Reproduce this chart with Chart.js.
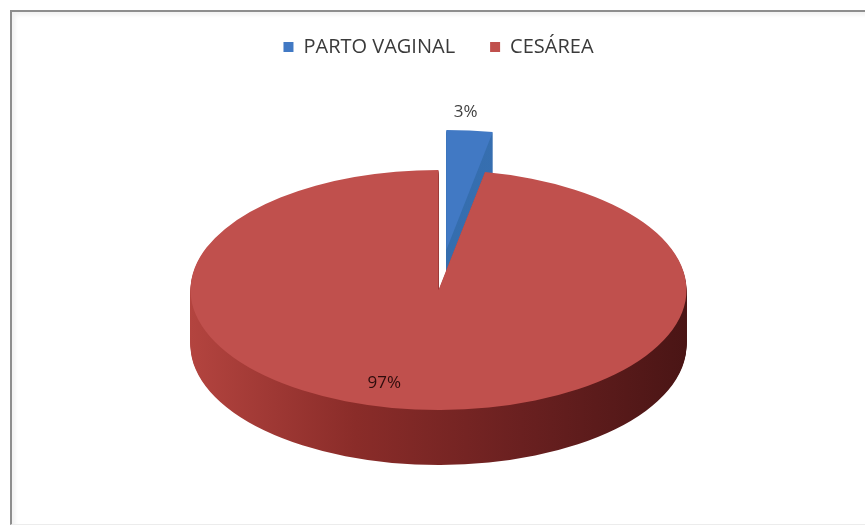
<!DOCTYPE html>
<html>
<head>
<meta charset="utf-8">
<title>Tipo de parto</title>
<script src="https://cdn.jsdelivr.net/npm/chart.js@4"></script>
<style>
    html, body {
        margin: 0;
        padding: 0;
        background: #ffffff;
    }
    #wrap {
        position: relative;
        width: 865px;
        height: 525px;
        overflow: hidden;
    }
    /* grey frame of the chart object */
    #frame {
        position: absolute;
        left: 10px;
        top: 10px;
        width: 900px;
        height: 512px;
        border-left: 2px solid #8e8e8e;
        border-top: 2px solid #8e8e8e;
        border-bottom: 1px solid #ececec;
        box-shadow: inset 3px 3px 4px rgba(0, 0, 0, 0.06);
        pointer-events: none;
    }
    #chart {
        position: absolute;
        left: 0;
        top: 0;
    }
</style>
</head>
<body>
<div id="wrap">
    <div id="frame"></div>
    <canvas id="chart" width="865" height="525"></canvas>
</div>

<script>
// Birth type shares (%)
const categories = ['PARTO VAGINAL', 'CESÁREA'];
const shares = [3, 97];

const topColors = ['#4179c4', '#c0504d'];
const sideColors = [
    ['#2e66a3', '#3b74b8'],
    ['#b3443f', '#8a2c29', '#6a2020', '#4a1515']
];

/**
 * Draws the pie as a tilted disc with a side wall.
 * Slice geometry comes from the arc elements laid out by the doughnut controller.
 */
const pie3d = {
    id: 'pie3d',

    // the flat arcs are replaced by the drawing below
    beforeDatasetDraw() {
        return false;
    },

    afterDatasetsDraw(chart, args, opts) {
        const ctx = chart.ctx;
        const meta = chart.getDatasetMeta(0);
        const tilt = opts.tilt;
        const depth = opts.depth;

        const slices = meta.data.map((arc, i) => {
            const p = arc.getProps(['x', 'y', 'startAngle', 'endAngle', 'outerRadius'], true);
            const mid = (p.startAngle + p.endAngle) / 2;
            const off = arc.options.offset || 0;
            return {
                index: i,
                x: p.x,
                y: p.y,
                r: p.outerRadius,
                start: p.startAngle,
                end: p.endAngle,
                mid: mid,
                ox: Math.cos(mid) * off,
                oy: Math.sin(mid) * off
            };
        });

        // path of one slice on the squashed plane, lowered by dy pixels
        const slicePath = (s, dy) => {
            ctx.save();
            ctx.translate(s.x, s.y + dy);
            ctx.scale(1, tilt);
            ctx.beginPath();
            ctx.moveTo(s.ox, s.oy);
            ctx.arc(s.ox, s.oy, s.r, s.start, s.end);
            ctx.closePath();
            ctx.restore();
        };

        const sideFill = (s) => {
            const g = ctx.createLinearGradient(s.x - s.r, 0, s.x + s.r, 0);
            const stops = sideColors[s.index];
            stops.forEach((c, j) => g.addColorStop(j / (stops.length - 1), c));
            return g;
        };

        // back slices first (those whose middle points away from the viewer)
        const order = slices.slice().sort((a, b) => Math.sin(a.mid) - Math.sin(b.mid));

        order.forEach(s => {
            ctx.fillStyle = sideFill(s);
            for (let dy = depth; dy >= 1; dy--) {
                slicePath(s, dy);
                ctx.fill();
            }
            slicePath(s, 0);
            ctx.fillStyle = topColors[s.index];
            ctx.fill();
        });

        // percentage labels
        const total = shares.reduce((a, b) => a + b, 0);
        ctx.save();
        ctx.textAlign = 'center';
        ctx.textBaseline = 'middle';
        ctx.font = '17px "Open Sans", sans-serif';
        slices.forEach(s => {
            const text = Math.round(shares[s.index] / total * 100) + '%';
            const cos = Math.cos(s.mid);
            const sin = Math.sin(s.mid);
            let lx, ly;
            if (s.end - s.start < 0.5) {
                // thin slice: label just outside its rim
                lx = s.x + s.ox + cos * s.r - 4;
                ly = s.y + (s.oy + sin * s.r) * tilt - 18;
                ctx.fillStyle = '#404040';
            } else {
                lx = s.x + s.ox + cos * s.r * 0.78 + opts.innerLabelShift;
                ly = s.y + (s.oy + sin * s.r * 0.78) * tilt;
                ctx.fillStyle = '#2e0c0c';
            }
            ctx.fillText(text, lx, ly);
        });
        ctx.restore();
    }
};

const ctx = document.getElementById('chart').getContext('2d');

const chart = new Chart(ctx, {
    type: 'pie',
    data: {
        labels: categories,
        datasets: [{
            data: shares,
            backgroundColor: topColors,
            borderWidth: 0,
            offset: [83, 0],
            clip: false
        }]
    },
    options: {
        responsive: false,
        animation: false,
        radius: 248,
        layout: {
            padding: { top: 2, bottom: 12, left: 12, right: 0 }
        },
        events: [],
        plugins: {
            legend: {
                display: true,
                position: 'top',
                labels: {
                    boxWidth: 10,
                    boxHeight: 10,
                    padding: 35,
                    color: '#3a3a3a',
                    font: { family: '"Open Sans", sans-serif', size: 20 }
                }
            },
            tooltip: { enabled: false },
            pie3d: {
                tilt: 0.484,
                depth: 55,
                innerLabelShift: -36
            }
        }
    },
    plugins: [pie3d]
});
</script>
</body>
</html>
